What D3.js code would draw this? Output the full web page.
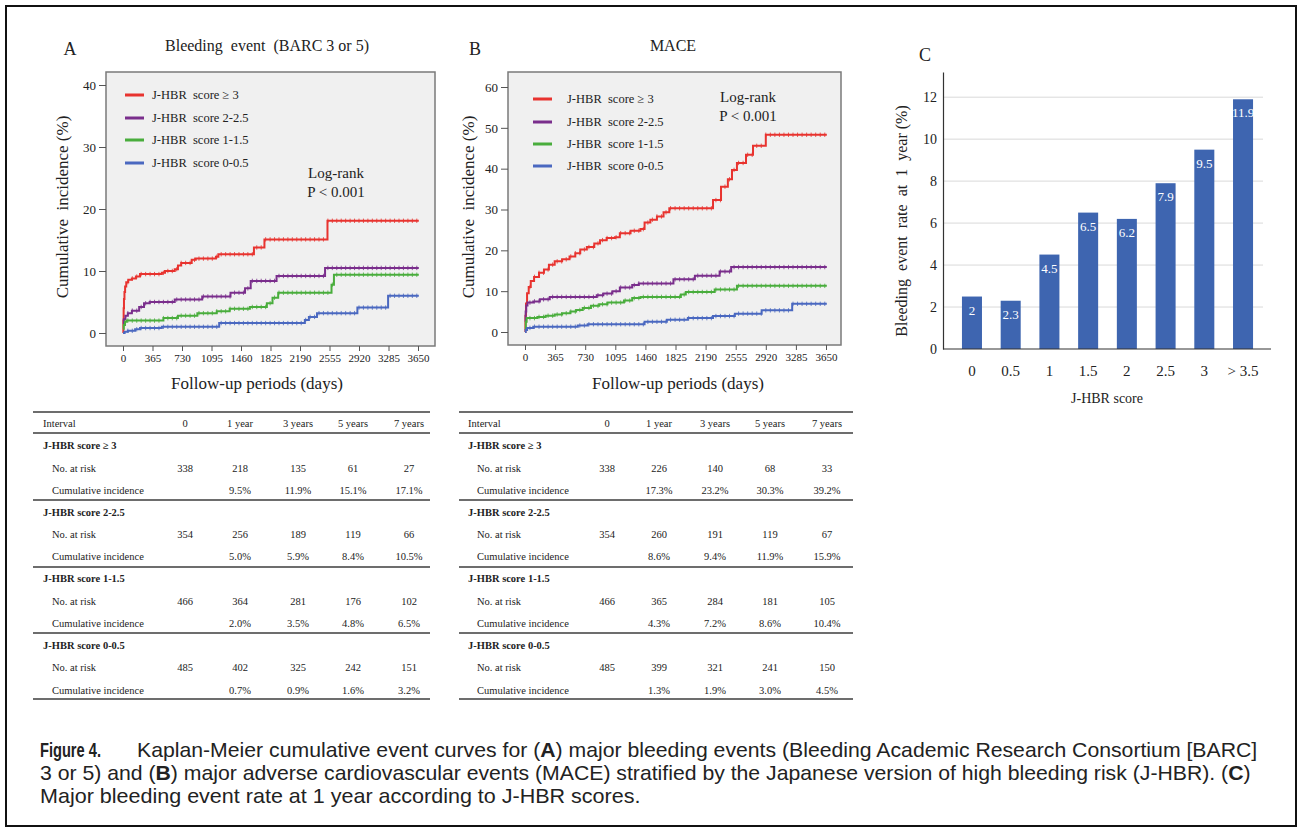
<!DOCTYPE html>
<html><head><meta charset="utf-8">
<script src="https://cdn.jsdelivr.net/npm/d3@7"></script>
<style>
body{margin:0;background:#fff;}
svg{display:block;}
text{white-space:pre;}
</style></head>
<body>
<svg id="c" width="1298" height="830"></svg>
<script>
// ---------------- DATA ----------------
const groupNames = ["J-HBR  score \u2265 3","J-HBR  score 2-2.5","J-HBR  score 1-1.5","J-HBR  score 0-0.5"];
const groupColors = ["#e8332f","#7a2e8c","#49ad3c","#4a68c0"];
const dayTicks = [0,365,730,1095,1460,1825,2190,2555,2920,3285,3650];
const followUpEnd = 3660;

// Panel A: Bleeding event (BARC 3 or 5) — [day, cumulative incidence %]
const bleedScore3 = [[0,0],[4,2],[8,4],[12,5.5],[18,6.6],[26,7.5],[40,8.2],[65,8.6],[110,8.8],[160,9.1],[210,9.5],[480,9.7],[520,10.0],[640,10.3],[680,10.9],[720,11.3],[850,11.8],[900,12.0],[1150,12.3],[1180,12.7],[1620,13.8],[1750,15.1],[2530,18.1]];
const bleedScore2 = [[0,1.5],[10,2.2],[30,2.8],[60,3.2],[110,3.6],[200,4.2],[260,4.8],[330,5.0],[640,5.4],[980,5.9],[1330,6.5],[1510,7.2],[1580,8.4],[1900,9.2],[2500,10.5]];
const bleedScore1 = [[0,0.7],[10,1.3],[25,1.8],[45,2.0],[500,2.4],[680,2.8],[920,3.2],[1160,3.5],[1320,3.9],[1570,4.2],[1780,4.8],[1850,5.7],[1920,6.5],[2580,7.8],[2610,9.4]];
const bleedScore0 = [[0,0],[20,0.2],[60,0.35],[150,0.6],[210,0.8],[480,1.0],[1190,1.6],[2250,2.1],[2300,2.6],[2400,3.2],[2900,4.1],[3280,6.0]];

// Panel B: MACE — [day, cumulative incidence %]
const maceScore3 = [[0,0],[5,4],[12,7],[25,9.5],[45,11],[70,12.5],[110,13.5],[170,14.5],[230,15.3],[290,16.5],[360,17.3],[450,17.8],[540,18.5],[610,19.3],[670,20.2],[750,20.8],[840,21.7],[910,22.5],[990,23.0],[1090,23.2],[1150,24.2],[1280,24.8],[1400,25.2],[1450,26.8],[1520,27.5],[1600,28.3],[1680,29.3],[1750,30.3],[2280,32.3],[2377,35.6],[2460,37.4],[2510,39.7],[2570,41.4],[2680,43.4],[2765,45.6],[2920,48.3]];
const maceScore2 = [[0,2.5],[8,5],[15,6.5],[30,7.2],[100,7.5],[180,8.0],[300,8.6],[870,9.0],[950,9.4],[1060,10.0],[1150,10.9],[1300,11.5],[1380,11.9],[1800,12.9],[2060,13.8],[2360,14.8],[2500,15.9]];
const maceScore1 = [[0,0.5],[10,2.5],[20,3.4],[150,3.7],[250,4.0],[360,4.3],[450,4.6],[550,5.0],[620,5.4],[700,5.9],[800,6.4],[900,6.8],[1000,7.2],[1200,7.7],[1300,8.3],[1400,8.6],[1890,9.2],[1950,9.8],[2300,10.4],[2570,11.3]];
const maceScore0 = [[0,0],[8,0.5],[25,1.0],[100,1.3],[640,1.6],[760,1.9],[1450,2.5],[1720,3.0],[1975,3.4],[2280,3.9],[2545,4.5],[2870,5.3],[3240,6.9]];

// Panel C: Bleeding event rate at 1 year by J-HBR score
const scoreCats = ["0","0.5","1","1.5","2","2.5","3","> 3.5"];
const bleedRate1y = [2.5,2.3,4.5,6.5,6.2,7.9,9.5,11.9];
const bleedRateLabels = ["2","2.3","4.5","6.5","6.2","7.9","9.5","11.9"];
const rateTicks = [0,2,4,6,8,10,12];

// Tables
const tableCols = ["Interval","0","1 year","3 years","5 years","7 years"];
const tableGroups = ["J-HBR score \u2265 3","J-HBR score 2-2.5","J-HBR score 1-1.5","J-HBR score 0-0.5"];
const bleedAtRisk = [[338,218,135,61,27],[354,256,189,119,66],[466,364,281,176,102],[485,402,325,242,151]];
const bleedCumInc = [["9.5%","11.9%","15.1%","17.1%"],["5.0%","5.9%","8.4%","10.5%"],["2.0%","3.5%","4.8%","6.5%"],["0.7%","0.9%","1.6%","3.2%"]];
const maceAtRisk = [[338,226,140,68,33],[354,260,191,119,67],[466,365,284,181,105],[485,399,321,241,150]];
const maceCumInc = [["17.3%","23.2%","30.3%","39.2%"],["8.6%","9.4%","11.9%","15.9%"],["4.3%","7.2%","8.6%","10.4%"],["1.3%","1.9%","3.0%","4.5%"]];

// ---------------- DRAW ----------------
const svg = d3.select("#c");
const SERIF = "'Liberation Serif','Times New Roman',serif";
const SANS = "'Liberation Sans Narrow','Arial Narrow','Liberation Sans',Arial,sans-serif";

svg.append("rect").attr("x",6).attr("y",6).attr("width",1290).attr("height",820)
  .attr("fill","#fff").attr("stroke","#111").attr("stroke-width",2);

function kmPanel(cfg){
  const g = svg.append("g");
  const x = d3.scaleLinear().domain([0,3650]).range(cfg.xr);
  const y = d3.scaleLinear().domain([0,cfg.ymax]).range(cfg.yr);
  g.append("rect").attr("x",cfg.box[0]).attr("y",cfg.box[1])
    .attr("width",cfg.box[2]-cfg.box[0]).attr("height",cfg.box[3]-cfg.box[1])
    .attr("fill","#f0f0f0").attr("stroke","#7a7a7a").attr("stroke-width",1.5);
  const ya = g.append("g").attr("transform",`translate(${cfg.box[0]},0)`)
    .call(d3.axisLeft(y).tickValues(cfg.yticks).tickSize(7).tickPadding(3).tickFormat(d3.format("d")));
  ya.select(".domain").remove();
  ya.selectAll("line").attr("stroke","#555");
  ya.selectAll("text").attr("font-family",SERIF).attr("font-size",13).attr("fill","#222");
  const xa = g.append("g").attr("transform",`translate(0,${cfg.box[3]})`)
    .call(d3.axisBottom(x).tickValues(dayTicks).tickSize(5).tickPadding(3).tickFormat(d3.format("d")));
  xa.select(".domain").remove();
  xa.selectAll("line").attr("stroke","#555");
  xa.selectAll("text").attr("font-family",SERIF).attr("font-size",11).attr("fill","#222");
  const line = d3.line().curve(d3.curveStepAfter).x(d=>x(d[0])).y(d=>y(d[1]));
  cfg.series.forEach((s,i)=>{
    const pts = s.concat([[followUpEnd, s[s.length-1][1]]]);
    g.append("path").attr("d",line(pts)).attr("fill","none")
      .attr("stroke",groupColors[i]).attr("stroke-width",2);
    const valAt = t => { let v=s[0][1]; for(const p of s){ if(p[0]<=t) v=p[1]; } return v; };
    const marks = d3.range(60, followUpEnd, 55);
    g.selectAll(null).data(marks).enter().append("line")
      .attr("x1",t=>x(t)).attr("x2",t=>x(t))
      .attr("y1",t=>y(valAt(t))-2.2).attr("y2",t=>y(valAt(t))+2.2)
      .attr("stroke",groupColors[i]).attr("stroke-width",1).attr("opacity",0.8);
  });
  groupNames.forEach((n,i)=>{
    const ly = cfg.legY[i];
    g.append("line").attr("x1",cfg.legX).attr("x2",cfg.legX+19).attr("y1",ly).attr("y2",ly)
      .attr("stroke",groupColors[i]).attr("stroke-width",3);
    g.append("text").attr("x",cfg.legTX).attr("y",ly+4).text(n)
      .attr("font-family",SERIF).attr("font-size",12.5).attr("fill","#222");
  });
  g.append("text").attr("x",cfg.lr[0]).attr("y",cfg.lr[1]).attr("text-anchor","middle")
    .text("Log-rank").attr("font-family",SERIF).attr("font-size",15).attr("fill","#222");
  g.append("text").attr("x",cfg.lr[0]).attr("y",cfg.lr[1]+19).attr("text-anchor","middle")
    .text("P < 0.001").attr("font-family",SERIF).attr("font-size",15).attr("fill","#222");
  g.append("text").attr("x",cfg.letter[0]).attr("y",cfg.letter[1]).attr("text-anchor","middle")
    .text(cfg.letter[2]).attr("font-family",SERIF).attr("font-size",18).attr("fill","#222");
  g.append("text").attr("x",cfg.title[0]).attr("y",51).attr("text-anchor","middle")
    .text(cfg.title[1]).attr("font-family",SERIF).attr("font-size",16).attr("fill","#222");
  g.append("text").attr("transform",`translate(${cfg.ytitleX},207) rotate(-90)`).attr("text-anchor","middle")
    .text("Cumulative  incidence (%)").attr("font-family",SERIF).attr("font-size",17).attr("fill","#222");
  g.append("text").attr("x",cfg.xtitleX).attr("y",389).attr("text-anchor","middle")
    .text("Follow-up periods (days)").attr("font-family",SERIF).attr("font-size",17).attr("fill","#222");
}

kmPanel({xr:[123,418], yr:[333,85], ymax:40, yticks:[0,10,20,30,40], box:[106,72,435,346],
  series:[bleedScore3,bleedScore2,bleedScore1,bleedScore0],
  legX:125, legTX:152, legY:[95,118,140,163], lr:[336,178],
  letter:[70,55,"A"], title:[267,"Bleeding  event  (BARC 3 or 5)"], ytitleX:68, xtitleX:257});

kmPanel({xr:[525,826], yr:[332,87], ymax:60, yticks:[0,10,20,30,40,50,60], box:[508,72,841,345],
  series:[maceScore3,maceScore2,maceScore1,maceScore0],
  legX:533, legTX:567, legY:[99,122,144,166], lr:[748,102],
  letter:[475,55,"B"], title:[673,"MACE"], ytitleX:474, xtitleX:678});

// ---------------- Panel C ----------------
(function(){
  const g = svg.append("g");
  const x = d3.scaleBand().domain(scoreCats).range([952.6,1262.4]).paddingInner(0.483).paddingOuter(0.2415);
  const y = d3.scaleLinear().domain([0,13.2]).range([349,72]);
  g.selectAll(null).data(rateTicks.filter(d=>d>0)).enter().append("line")
    .attr("x1",943).attr("x2",1263).attr("y1",d=>y(d)).attr("y2",d=>y(d))
    .attr("stroke","#d9d9d9").attr("stroke-width",1);
  const ya = g.append("g").attr("transform","translate(943,0)")
    .call(d3.axisLeft(y).tickValues(rateTicks).tickSize(0).tickPadding(6));
  ya.select(".domain").attr("stroke","#333").attr("stroke-width",1.2);
  ya.selectAll("text").attr("font-family",SERIF).attr("font-size",14).attr("fill","#222");
  g.selectAll(null).data(scoreCats).enter().append("rect")
    .attr("x",d=>x(d)).attr("width",x.bandwidth())
    .attr("y",(d,i)=>y(bleedRate1y[i])).attr("height",(d,i)=>y(0)-y(bleedRate1y[i]))
    .attr("fill","#3e65b0");
  g.append("line").attr("x1",943).attr("x2",1271).attr("y1",349).attr("y2",349)
    .attr("stroke","#333").attr("stroke-width",1.2);
  g.selectAll(null).data(scoreCats).enter().append("text")
    .attr("x",d=>x(d)+x.bandwidth()/2).attr("y",(d,i)=>y(bleedRate1y[i])+18)
    .attr("text-anchor","middle").text((d,i)=>bleedRateLabels[i])
    .attr("font-family",SERIF).attr("font-size",13).attr("fill","#fff");
  const xa = g.append("g").attr("transform","translate(0,349)")
    .call(d3.axisBottom(x).tickSize(0).tickPadding(16));
  xa.select(".domain").remove();
  xa.selectAll("text").attr("font-family",SERIF).attr("font-size",15).attr("fill","#222");
  g.append("text").attr("x",925).attr("y",61).attr("text-anchor","middle").text("C")
    .attr("font-family",SERIF).attr("font-size",18).attr("fill","#222");
  g.append("text").attr("transform","translate(907,221) rotate(-90)").attr("text-anchor","middle")
    .text("Bleeding  event  rate  at  1  year (%)").attr("font-family",SERIF).attr("font-size",16).attr("fill","#222");
  g.append("text").attr("x",1107).attr("y",403).attr("text-anchor","middle").text("J-HBR score")
    .attr("font-family",SERIF).attr("font-size",14).attr("fill","#222");
})();

// ---------------- Tables ----------------
function drawTable(cfg){
  const g = svg.append("g");
  const rowsY = {header:427, groups:[449,516,582,649], risk:[472,538,605,671], cum:[494,560,627,694]};
  const lines = [412,433,500,567,633,699];
  lines.forEach(ly=>{
    g.append("line").attr("x1",cfg.x0).attr("x2",cfg.x1).attr("y1",ly).attr("y2",ly)
      .attr("stroke","#6d6d6d").attr("stroke-width",2);
  });
  const tf = (sel)=>sel.attr("font-family",SERIF).attr("font-size",10.5).attr("fill","#222");
  tableCols.forEach((c,i)=>{
    const t = g.append("text").attr("y",rowsY.header).text(c).call(tf);
    if(i===0) t.attr("x",cfg.labX); else t.attr("x",cfg.cols[i-1]).attr("text-anchor","middle");
  });
  tableGroups.forEach((gn,gi)=>{
    g.append("text").attr("x",cfg.labX).attr("y",rowsY.groups[gi]).text(gn).call(tf).attr("font-weight","bold");
    g.append("text").attr("x",cfg.labX+9).attr("y",rowsY.risk[gi]).text("No. at risk").call(tf);
    g.append("text").attr("x",cfg.labX+9).attr("y",rowsY.cum[gi]).text("Cumulative incidence").call(tf);
    cfg.risk[gi].forEach((v,j)=>{
      g.append("text").attr("x",cfg.cols[j]).attr("y",rowsY.risk[gi]).attr("text-anchor","middle").text(v).call(tf);
    });
    cfg.cum[gi].forEach((v,j)=>{
      g.append("text").attr("x",cfg.cols[j+1]).attr("y",rowsY.cum[gi]).attr("text-anchor","middle").text(v).call(tf);
    });
  });
}
drawTable({x0:33,x1:430,labX:43,cols:[185,240,298,353,409],risk:bleedAtRisk,cum:bleedCumInc});
drawTable({x0:459,x1:853,labX:468,cols:[607,659,715,770,827],risk:maceAtRisk,cum:maceCumInc});

// ---------------- Caption ----------------
function fitText(sel, x0, target){
  const w = sel.node().getComputedTextLength();
  sel.attr("transform",`translate(${x0},0) scale(${target/w},1) translate(${-x0},0)`);
}
const cap = svg.append("g").attr("font-family",SANS).attr("font-size",20).attr("fill","#222");
const f4 = cap.append("text").attr("x",40).attr("y",757).attr("font-weight","bold").text("Figure 4.");
fitText(f4,40,61);
const l1 = cap.append("text").attr("x",137).attr("y",757);
l1.append("tspan").text("Kaplan-Meier cumulative event curves for (");
l1.append("tspan").attr("font-weight","bold").text("A");
l1.append("tspan").text(") major bleeding events (Bleeding Academic Research Consortium [BARC]");
fitText(l1,137,1121);
const l2 = cap.append("text").attr("x",40).attr("y",780);
l2.append("tspan").text("3 or 5) and (");
l2.append("tspan").attr("font-weight","bold").text("B");
l2.append("tspan").text(") major adverse cardiovascular events (MACE) stratified by the Japanese version of high bleeding risk (J-HBR). (");
l2.append("tspan").attr("font-weight","bold").text("C");
l2.append("tspan").text(")");
fitText(l2,40,1211);
const l3 = cap.append("text").attr("x",40).attr("y",803).text("Major bleeding event rate at 1 year according to J-HBR scores.");
fitText(l3,40,601);
</script>
</body></html>
